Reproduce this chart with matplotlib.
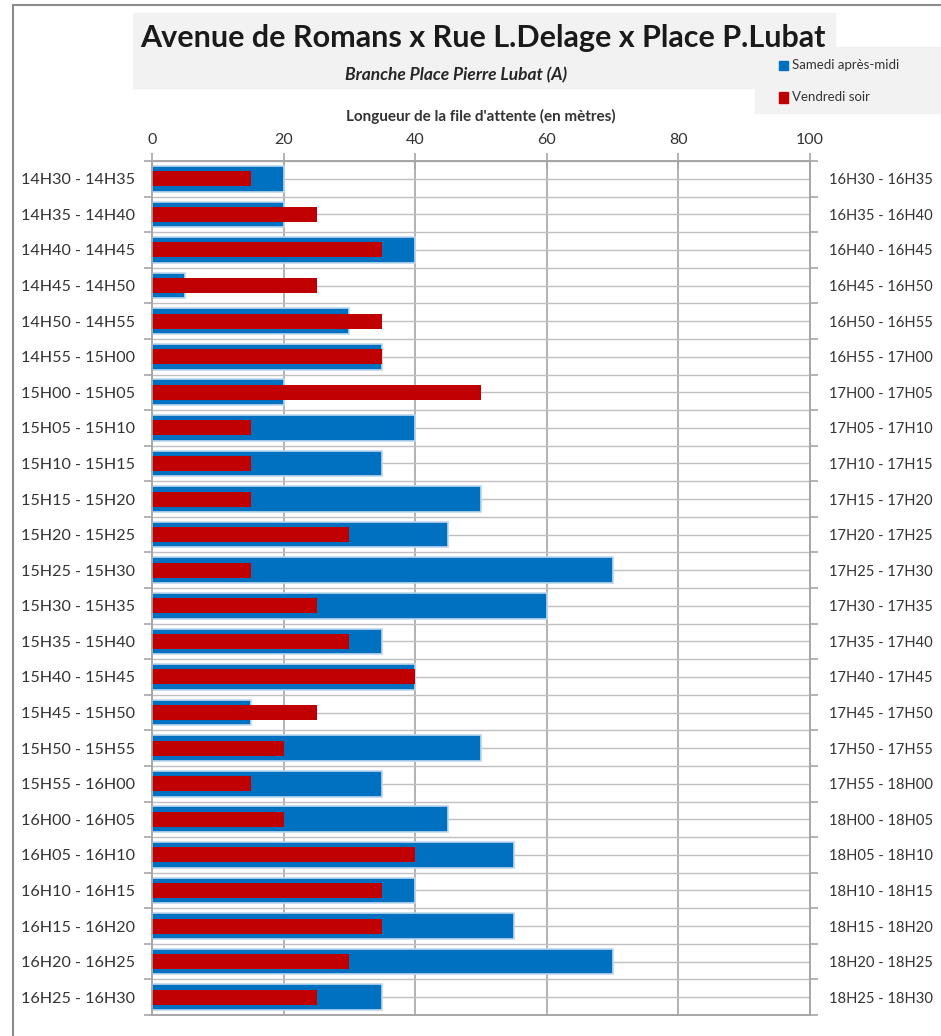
import numpy as np
import matplotlib
matplotlib.use("Agg")
import matplotlib.pyplot as plt
from matplotlib.patches import Rectangle

plt.rcParams['font.family'] = ['Lato', 'DejaVu Sans']

# Time slots (left axis: Saturday afternoon, right axis: Friday evening)
slots_samedi = ['14H30 - 14H35', '14H35 - 14H40', '14H40 - 14H45', '14H45 - 14H50',
                '14H50 - 14H55', '14H55 - 15H00', '15H00 - 15H05', '15H05 - 15H10',
                '15H10 - 15H15', '15H15 - 15H20', '15H20 - 15H25', '15H25 - 15H30',
                '15H30 - 15H35', '15H35 - 15H40', '15H40 - 15H45', '15H45 - 15H50',
                '15H50 - 15H55', '15H55 - 16H00', '16H00 - 16H05', '16H05 - 16H10',
                '16H10 - 16H15', '16H15 - 16H20', '16H20 - 16H25', '16H25 - 16H30']
slots_vendredi = ['16H30 - 16H35', '16H35 - 16H40', '16H40 - 16H45', '16H45 - 16H50',
                  '16H50 - 16H55', '16H55 - 17H00', '17H00 - 17H05', '17H05 - 17H10',
                  '17H10 - 17H15', '17H15 - 17H20', '17H20 - 17H25', '17H25 - 17H30',
                  '17H30 - 17H35', '17H35 - 17H40', '17H40 - 17H45', '17H45 - 17H50',
                  '17H50 - 17H55', '17H55 - 18H00', '18H00 - 18H05', '18H05 - 18H10',
                  '18H10 - 18H15', '18H15 - 18H20', '18H20 - 18H25', '18H25 - 18H30']

# queue length in metres
samedi = [20, 20, 40, 5, 30, 35, 20, 40, 35, 50, 45, 70,
          60, 35, 40, 15, 50, 35, 45, 55, 40, 55, 70, 35]
vendredi = [15, 25, 35, 25, 35, 35, 50, 15, 15, 15, 30, 15,
            25, 30, 40, 25, 20, 15, 20, 40, 35, 35, 30, 25]

blue = '#0070C0'
red = '#C00000'
grid_c = '#A6A6A6'
txt_c = '#333333'

W, H = 941, 1036
fig = plt.figure(figsize=(W / 100, H / 100), dpi=100)

# background boxes (title block + legend block) and outer frame
fig.patches.append(Rectangle((133 / W, 1 - 88 / H), (835 - 133) / W, (88 - 13) / H,
                             transform=fig.transFigure, color='#F2F2F2', zorder=0))
fig.patches.append(Rectangle((755 / W, 1 - 113 / H), (W - 755) / W, (113 - 47) / H,
                             transform=fig.transFigure, color='#F2F2F2', zorder=0))
fig.add_artist(plt.Line2D([13 / W, 13 / W], [0, 1 - 5 / H], transform=fig.transFigure,
                          color='#8C8C8C', lw=1.5))
fig.add_artist(plt.Line2D([13 / W, 1], [1 - 5 / H, 1 - 5 / H], transform=fig.transFigure,
                          color='#8C8C8C', lw=1.5))

x0, x1 = 152, 810
y0, y1 = 161, 1015
ax = fig.add_axes([x0 / W, 1 - y1 / H, (x1 - x0) / W, (y1 - y0) / H])

n = len(slots_samedi)
pos = np.arange(n)

ax.barh(pos, samedi, height=0.72, color=blue, edgecolor='#BDD7EE', linewidth=1.2, zorder=3)
ax.barh(pos, vendredi, height=0.42, color=red, edgecolor='none', zorder=4)

ax.set_xlim(0, 100)
ax.set_ylim(n - 0.5, -0.5)

# gridlines
for v in [20, 40, 60, 80]:
    ax.axvline(v, color=grid_c, lw=1.2, zorder=1)
ax.hlines(np.arange(-0.5, n, 0.5), 0, 100, color='#BFBFBF', lw=1.0, zorder=1)

ax.xaxis.tick_top()
ax.set_xticks([0, 20, 40, 60, 80, 100])
ax.tick_params(axis='x', direction='inout', length=12, width=1.2, color=grid_c,
               labelsize=11.5, labelcolor=txt_c, pad=4)
ax.set_xlabel("Longueur de la file d'attente (en mètres)", fontsize=11, fontweight='bold',
              color=txt_c, labelpad=9)
ax.xaxis.set_label_position('top')

ax.set_yticks(pos)
ax.set_yticklabels(slots_samedi)
ax.set_yticks(np.arange(-0.5, n, 1), minor=True)
ax.tick_params(axis='y', which='major', length=0, labelsize=11.6, labelcolor=txt_c, pad=12)
ax.tick_params(axis='y', which='minor', length=6, width=1.2, color=grid_c, direction='out')

for s in ax.spines.values():
    s.set_color(grid_c)
    s.set_linewidth(1.2)

ax2 = ax.twinx()
ax2.set_ylim(ax.get_ylim())
ax2.set_yticks(pos)
ax2.set_yticklabels(slots_vendredi)
ax2.set_yticks(np.arange(-0.5, n, 1), minor=True)
ax2.tick_params(axis='y', which='major', length=0, labelsize=10.6, labelcolor=txt_c, pad=14)
ax2.tick_params(axis='y', which='minor', length=6, width=1.2, color=grid_c, direction='out')
for s in ax2.spines.values():
    s.set_color(grid_c)
    s.set_linewidth(1.2)

# titles
fig.text(483 / W, 1 - 38 / H, 'Avenue de Romans x Rue L.Delage x Place P.Lubat',
         ha='center', va='center', fontsize=22, fontweight='bold', color='#1a1a1a')
fig.text(456 / W, 1 - 75 / H, 'Branche Place Pierre Lubat (A)', ha='center', va='center',
         fontsize=12.5, fontweight='bold', fontstyle='italic', color='#262626')

# legend
fig.patches.append(Rectangle((779 / W, 1 - 70 / H), 9 / W, 9 / H, transform=fig.transFigure,
                             color=blue, zorder=2))
fig.text(792 / W, 1 - 65 / H, 'Samedi après-midi', ha='left', va='center', fontsize=9.5,
         color=txt_c)
fig.patches.append(Rectangle((779 / W, 1 - 103 / H), 9 / W, 11 / H, transform=fig.transFigure,
                             color=red, zorder=2))
fig.text(792 / W, 1 - 97 / H, 'Vendredi soir', ha='left', va='center', fontsize=9.5,
         color=txt_c)

fig.savefig('out.png', dpi=100)
